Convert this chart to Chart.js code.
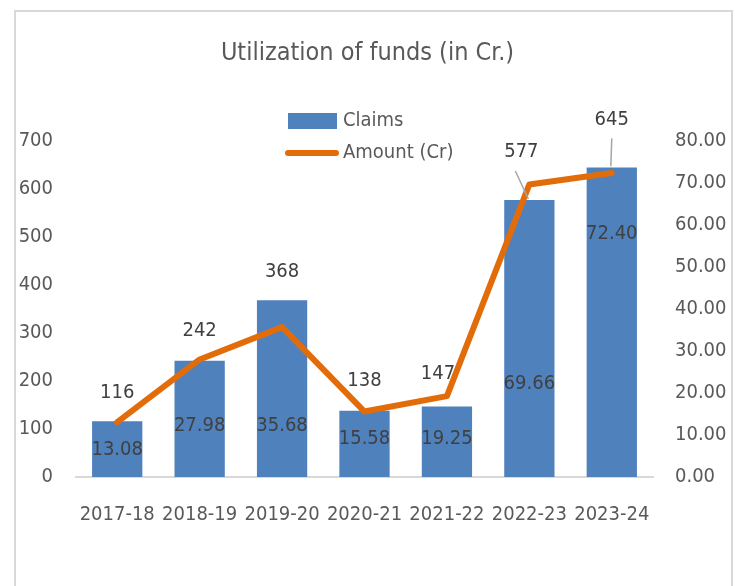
<!DOCTYPE html>
<html>
<head>
<meta charset="utf-8">
<script src="https://cdn.jsdelivr.net/npm/chart.js@4/dist/chart.umd.min.js"></script>
<style>
  html, body { margin: 0; padding: 0; background: #fff; }
  #wrap { position: relative; width: 735px; height: 586px; }
  #frame { position: absolute; left: 14px; top: 10px; width: 715px; height: 600px; border: 2px solid #d9d9d9; pointer-events: none; }
</style>
</head>
<body>
<div id="wrap">
  <canvas id="c" width="735" height="586"></canvas>
  <div id="frame"></div>
</div>
<script>
const categories = ['2017-18', '2018-19', '2019-20', '2020-21', '2021-22', '2022-23', '2023-24'];
const claims = [116, 242, 368, 138, 147, 577, 645];
const amounts = [13.08, 27.98, 35.68, 15.58, 19.25, 69.66, 72.40];

const FONT = "'DejaVu Sans Condensed', 'DejaVu Sans', sans-serif";
const BLUE = '#4f81bd';
const ORANGE = '#e36c0a';
const GREY_TXT = '#595959';
const LABEL_TXT = '#404040';

// label placement tweaks (pixels), as in the original Excel chart
const barLabelDx = [0, 0, 0, 0, -9, -8, 0];
const barLabelDy = [-29, -30, -29, -30, -33, -48, -48];
const lineLabelDy = [28, 66, 99, 27, 43, 199, 61];

const overlay = {
  id: 'overlay',
  afterDatasetsDraw(chart) {
    const ctx = chart.ctx;
    const barMeta = chart.getDatasetMeta(0);
    const lineMeta = chart.getDatasetMeta(1);
    ctx.save();
    ctx.font = '20px ' + FONT;
    ctx.textAlign = 'center';
    ctx.textBaseline = 'middle';

    // leader lines for the moved labels
    ctx.strokeStyle = '#a6a6a6';
    ctx.lineWidth = 1.5;
    [5, 6].forEach(i => {
      const b = barMeta.data[i];
      const lx = b.x + barLabelDx[i], ly = b.y + barLabelDy[i];
      ctx.beginPath();
      ctx.moveTo(lx + (i === 5 ? -6 : 0), ly + 19);
      ctx.lineTo(b.x - 1, b.y - 1);
      ctx.stroke();
    });

    ctx.fillStyle = LABEL_TXT;
    barMeta.data.forEach((b, i) => {
      ctx.fillText(String(claims[i]), b.x + barLabelDx[i], b.y + barLabelDy[i]);
    });
    lineMeta.data.forEach((p, i) => {
      ctx.fillText(amounts[i].toFixed(2), p.x, p.y + lineLabelDy[i]);
    });

    // legend
    ctx.textAlign = 'left';
    ctx.font = '20px ' + FONT;
    ctx.fillStyle = BLUE;
    ctx.fillRect(288, 113, 49, 16);
    ctx.fillStyle = GREY_TXT;
    ctx.fillText(chart.data.datasets[0].label, 343, 121);
    ctx.strokeStyle = ORANGE;
    ctx.lineWidth = 6;
    ctx.lineCap = 'round';
    ctx.beginPath();
    ctx.moveTo(288, 153);
    ctx.lineTo(336, 153);
    ctx.stroke();
    ctx.fillText(chart.data.datasets[1].label, 343, 153);
    ctx.restore();
  }
};

new Chart(document.getElementById('c'), {
  type: 'bar',
  data: {
    labels: categories,
    datasets: [
      { type: 'bar', label: 'Claims', data: claims, yAxisID: 'y', backgroundColor: BLUE,
        categoryPercentage: 1, barPercentage: 0.61, order: 2 },
      { type: 'line', label: 'Amount (Cr)', data: amounts, yAxisID: 'y1', borderColor: ORANGE,
        borderWidth: 6, pointRadius: 0, borderCapStyle: 'round', borderJoinStyle: 'round',
        tension: 0, fill: false, order: 1 }
    ]
  },
  options: {
    responsive: false,
    animation: false,
    devicePixelRatio: 1,
    layout: { padding: 0 },
    plugins: {
      legend: { display: false },
      tooltip: { enabled: false },
      title: {
        display: true,
        text: 'Utilization of funds (in Cr.)',
        color: GREY_TXT,
        font: { family: FONT, size: 25, weight: 'normal' },
        padding: { top: 38, bottom: 73 }
      }
    },
    scales: {
      x: {
        grid: { display: false, drawTicks: false },
        border: { display: true, color: '#d9d9d9', width: 2 },
        ticks: { color: GREY_TXT, font: { family: FONT, size: 20 }, padding: 26, maxRotation: 0, autoSkip: false },
        afterFit: s => { s.height = 586 - 477; }
      },
      y: {
        position: 'left', min: 0, max: 700,
        grid: { display: false, drawTicks: false },
        border: { display: false },
        ticks: { stepSize: 100, color: GREY_TXT, font: { family: FONT, size: 20 }, padding: 23 },
        afterFit: s => { s.width = 76; }
      },
      y1: {
        position: 'right', min: 0, max: 80,
        grid: { display: false, drawTicks: false },
        border: { display: false },
        ticks: { stepSize: 10, color: GREY_TXT, font: { family: FONT, size: 20 }, padding: 22,
          callback: v => Number(v).toFixed(2) },
        afterFit: s => { s.width = 735 - 653; }
      }
    }
  },
  plugins: [overlay]
});
</script>
</body>
</html>
